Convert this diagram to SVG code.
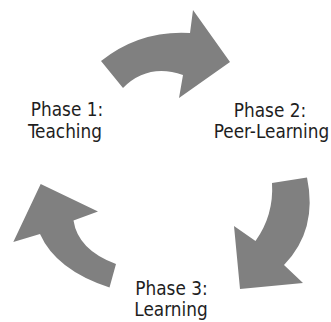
<svg xmlns="http://www.w3.org/2000/svg" width="331" height="322" viewBox="0 0 331 322">
<style>
.arrow{fill:#808080;stroke:none}
.lbl{font-family:"DejaVu Sans Condensed","DejaVu Sans",sans-serif;font-size:18.8px;fill:#1e1e1e;text-anchor:middle}
</style>
<rect width="331" height="322" fill="#ffffff"/>
<g id="connectors">
<path class="arrow" d="M101,61 Q140,30 190,33 L193,10 L230,62 L179,98 L183,75 Q148,63 123,88 Z"/>
<path class="arrow" d="M307,177.5 Q318,230 284,265 L303,283 L240,289 L234,226 L255.5,241 Q274,215 272,183 Z"/>
<path class="arrow" d="M116,264 Q78,250 73.5,220.5 L98,211.5 L40.7,184 L13.3,242 L40,234 Q56,270 109.5,287.5 Z"/>
</g>
<g id="phase1">
<text class="lbl" x="67" y="116">Phase 1:</text>
<text class="lbl" x="65" y="137.5">Teaching</text>
</g>
<g id="phase2">
<text class="lbl" x="270" y="116.5">Phase 2:</text>
<text class="lbl" x="271.5" y="138">Peer-Learning</text>
</g>
<g id="phase3">
<text class="lbl" x="171.5" y="295">Phase 3:</text>
<text class="lbl" x="171" y="316">Learning</text>
</g>
</svg>
